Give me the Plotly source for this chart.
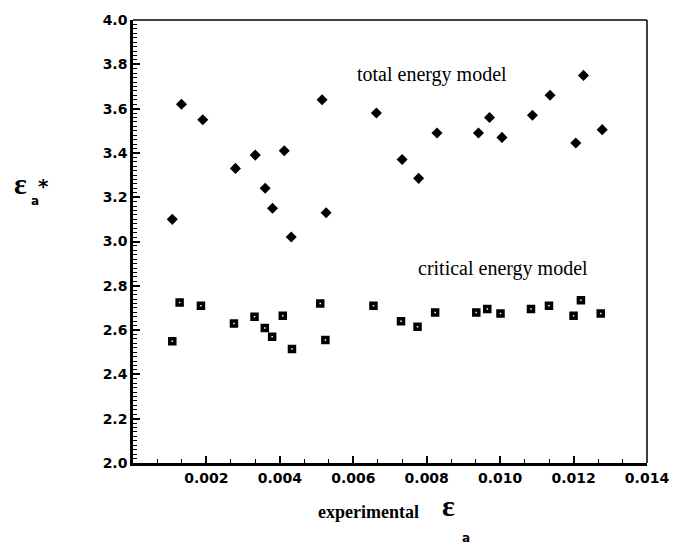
import plotly.graph_objects as go

# total energy model (filled diamonds)
total_x = [0.00107, 0.00132, 0.00190, 0.00279, 0.00333, 0.00360, 0.00380, 0.00412,
           0.00431, 0.00515, 0.00526, 0.00663, 0.00733, 0.00778, 0.00828, 0.00941,
           0.00971, 0.01005, 0.01088, 0.01136, 0.01206, 0.01227, 0.01278]
total_y = [3.10, 3.62, 3.55, 3.33, 3.39, 3.24, 3.15, 3.41,
           3.02, 3.64, 3.13, 3.58, 3.37, 3.285, 3.49, 3.49,
           3.56, 3.47, 3.57, 3.66, 3.445, 3.75, 3.505]

# critical energy model (squares)
crit_x = [0.00107, 0.00127, 0.00185, 0.00275, 0.00331, 0.00359, 0.00379, 0.00408,
          0.00433, 0.00510, 0.00524, 0.00655, 0.00730, 0.00775, 0.00823, 0.00935,
          0.00965, 0.01001, 0.01084, 0.01133, 0.01200, 0.01220, 0.01274]
crit_y = [2.55, 2.725, 2.71, 2.63, 2.66, 2.61, 2.57, 2.665,
          2.515, 2.72, 2.555, 2.71, 2.64, 2.615, 2.68, 2.68,
          2.695, 2.675, 2.695, 2.71, 2.665, 2.735, 2.675]

x_ticks = [0.002, 0.004, 0.006, 0.008, 0.010, 0.012, 0.014]
x_tick_labels = ["0.002", "0.004", "0.006", "0.008", "0.010", "0.012", "0.014"]
y_ticks = [2.0, 2.2, 2.4, 2.6, 2.8, 3.0, 3.2, 3.4, 3.6, 3.8, 4.0]
y_tick_labels = ["2.0", "2.2", "2.4", "2.6", "2.8", "3.0", "3.2", "3.4", "3.6", "3.8", "4.0"]

W, H = 681, 547
L, R, T, B = 132.5, 647.0, 16.0, 463.0


def xp(px):
    return (px - L) / (R - L)


def yp(py):
    return (B - py) / (B - T)


tick_font = dict(family="DejaVu Sans", size=14, color="black")
serif = "Liberation Serif"

fig = go.Figure()
fig.add_trace(go.Scatter(
    x=total_x, y=total_y, mode="markers", name="total energy model",
    marker=dict(symbol="diamond", size=8.5, color="black"),
))
fig.add_trace(go.Scatter(
    x=crit_x, y=crit_y, mode="markers", name="critical energy model",
    marker=dict(symbol="square-open", size=5, color="black",
                line=dict(width=3.5, color="black")),
))

fig.update_xaxes(
    range=[0, 0.014], tickvals=x_ticks, ticktext=["<b>%s</b>" % t for t in x_tick_labels],
    ticks="inside", ticklen=7, tickwidth=1.5, tickcolor="black",
    showline=True, linewidth=2.5, linecolor="black", mirror=False,
    showgrid=False, zeroline=False, tickfont=tick_font,
    minor=dict(ticks="inside", ticklen=4, tickwidth=1.2, tickcolor="black",
               dtick=0.002 / 3, tick0=0, showgrid=False),
)
fig.update_yaxes(
    range=[2.0, 4.0], tickvals=y_ticks, ticktext=["<b>%s</b>" % t for t in y_tick_labels],
    ticks="inside", ticklen=7, tickwidth=1.5, tickcolor="black",
    showline=True, linewidth=2.5, linecolor="black", mirror=False,
    showgrid=False, zeroline=False, tickfont=tick_font,
    minor=dict(ticks="inside", ticklen=4, tickwidth=1.2, tickcolor="black",
               dtick=0.02, tick0=2.0, showgrid=False),
)

# thinner top and right frame lines
fig.add_shape(type="line", xref="paper", yref="paper", x0=0, x1=1, y0=1, y1=1,
              line=dict(color="black", width=1.5))
fig.add_shape(type="line", xref="paper", yref="paper", x0=1, x1=1, y0=0, y1=1,
              line=dict(color="black", width=1.5))


def txt(x, y, text, size, family=serif, bold=False, ref="paper"):
    t = "<b>%s</b>" % text if bold else text
    return dict(x=x, y=y, xref=ref, yref=ref, text=t, showarrow=False,
                xanchor="center", yanchor="middle",
                font=dict(family=family, size=size, color="black"))


ann = []
ann.append(dict(txt(0.00815, 3.755, "total energy model", 20), xref="x", yref="y"))
ann.append(dict(txt(0.01008, 2.88, "critical energy model", 20), xref="x", yref="y"))
# y axis title
ann.append(txt(xp(20), yp(181), "ε", 30, bold=True))
ann.append(txt(xp(34), yp(199), "a", 12, family="DejaVu Sans", bold=True))
ann.append(txt(xp(43), yp(183), "*", 20, family="DejaVu Sans", bold=True))
# x axis title
ann.append(txt(xp(368), yp(512), "experimental", 18, bold=True))
ann.append(txt(xp(448), yp(506), "ε", 30, bold=True))
ann.append(txt(xp(466), yp(539), "a", 12, family="DejaVu Sans", bold=True))

fig.update_layout(
    width=W, height=H,
    margin=dict(l=L, r=W - R, t=T, b=H - B, pad=0),
    paper_bgcolor="white", plot_bgcolor="white",
    showlegend=False, annotations=ann,
)

fig.write_html("out.html")
